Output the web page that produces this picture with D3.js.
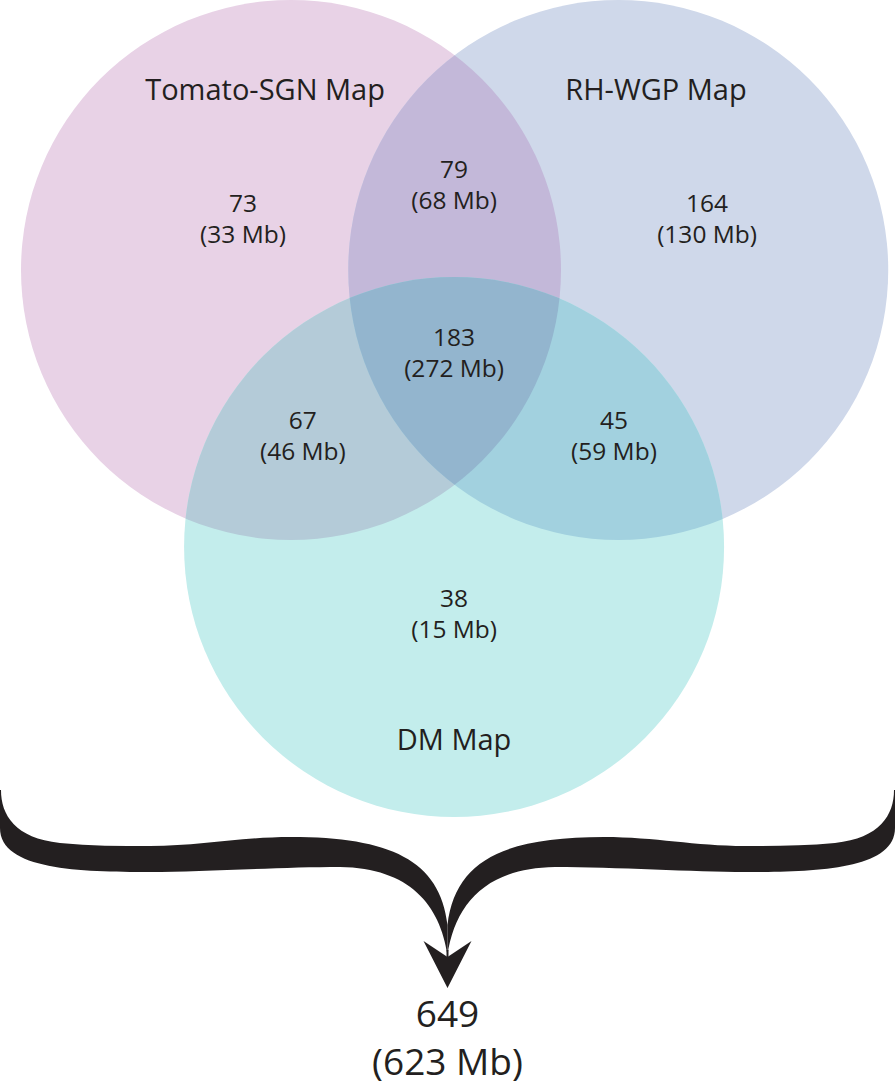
<!DOCTYPE html>
<html>
<head>
<meta charset="utf-8">
<script src="https://cdn.jsdelivr.net/npm/d3@7"></script>
<style>
  html, body { margin: 0; padding: 0; background: #ffffff; }
  svg { display: block; }
  text { font-family: "Open Sans", "Noto Sans", sans-serif; fill: #231F20; }
</style>
</head>
<body>
<svg id="chart" width="895" height="1089"></svg>
<script>
// ---------------- data ----------------
const setNames   = ["Tomato-SGN Map", "RH-WGP Map", "DM Map"];
const setColors  = ["#E8D2E6", "#CFD8EA", "#C3EDEC"];
// regions: A only, B only, C only, A∩B, A∩C, B∩C, A∩B∩C
const regionKeys   = ["A", "B", "C", "AB", "AC", "BC", "ABC"];
const regionCounts = [73, 164, 38, 79, 67, 45, 183];
const regionMb     = [33, 130, 15, 68, 46, 59, 272];
const pairColors   = { AB: "#C3B8D9", AC: "#B4CBD8", BC: "#A2D1DF" };
const tripleColor  = "#93B5CE";
const totalCount   = 649;
const totalMb      = 623;

// ---------------- layout (unit = circle radius) ----------------
const centers = [[0, 0], [1.212, 0], [0.604, 1.026]];          // circle centres
const setLabelPos = [[-0.096, -0.63], [1.352, -0.63], [0.604, 1.778]];
const regionLabelPos = [[-0.178, -0.215], [1.541, -0.215], [0.604, 1.248],
                        [0.604, -0.34], [0.044, 0.589], [1.196, 0.589], [0.604, 0.281]];

const W = 895, H = 1089;
const x = d3.scaleLinear().domain([0, 1]).range([291, 561]);
const y = d3.scaleLinear().domain([0, 1]).range([270, 540]);
const R = x(1) - x(0);

const svg = d3.select("#chart");
const defs = svg.append("defs");
["A", "B", "C"].forEach((k, i) => {
  defs.append("clipPath").attr("id", "clip" + k)
    .append("circle").attr("cx", x(centers[i][0])).attr("cy", y(centers[i][1])).attr("r", R);
});

const circ = (g, i) => g.append("circle")
  .attr("cx", x(centers[i][0])).attr("cy", y(centers[i][1])).attr("r", R);

// single sets
const gSets = svg.append("g");
setColors.forEach((c, i) => circ(gSets, i).attr("fill", c));
// pairwise intersections
circ(svg, 1).attr("clip-path", "url(#clipA)").attr("fill", pairColors.AB);
circ(svg, 2).attr("clip-path", "url(#clipA)").attr("fill", pairColors.AC);
circ(svg, 2).attr("clip-path", "url(#clipB)").attr("fill", pairColors.BC);
// triple
const gT = svg.append("g").attr("clip-path", "url(#clipA)");
circ(gT, 2).attr("clip-path", "url(#clipB)").attr("fill", tripleColor);

// set labels
svg.append("g").selectAll("text").data(setNames).join("text")
  .attr("x", (d, i) => x(setLabelPos[i][0]))
  .attr("y", (d, i) => y(setLabelPos[i][1]))
  .attr("text-anchor", "middle")
  .attr("font-size", 29)
  .text(d => d);

// region labels
const rg = svg.append("g").selectAll("g").data(regionKeys).join("g")
  .attr("transform", (d, i) => `translate(${x(regionLabelPos[i][0])},${y(regionLabelPos[i][1])})`);
rg.append("text").attr("text-anchor", "middle").attr("font-size", 24.5)
  .text((d, i) => regionCounts[i]);
rg.append("text").attr("text-anchor", "middle").attr("font-size", 24.5).attr("y", 31)
  .text((d, i) => `(${regionMb[i]} Mb)`);

// ---------------- brace + arrow ----------------
const cx = W / 2;
const bTop = 790;       // top of brace ends
const notch = 925, tip = 955;
function halfBrace() {
  const p = d3.path();
  // inner (upper) edge
  p.moveTo(1, bTop);
  p.bezierCurveTo(1, 815, 15, 838, 60, 843);
  p.bezierCurveTo(90, 846, 120, 846, 150, 846);
  p.bezierCurveTo(200, 846, 240, 837, 291, 837);
  p.bezierCurveTo(390, 837, 440, 860, cx, notch);
  p.lineTo(cx, tip);
  // outer (lower) edge
  p.bezierCurveTo(440, 905, 410, 868, 340, 867);
  p.bezierCurveTo(280, 867, 200, 872, 150, 872);
  p.bezierCurveTo(80, 872, 0, 870, 0, 828);
  p.lineTo(0, bTop);
  p.closePath();
  return p.toString();
}
const gb = svg.append("g").attr("fill", "#231F20");
gb.append("path").attr("d", halfBrace());
gb.append("path").attr("d", halfBrace()).attr("transform", `translate(${W},0) scale(-1,1)`);
// arrow head
const ah = d3.path();
ah.moveTo(cx - 24, 941); ah.lineTo(cx, 957); ah.lineTo(cx + 24, 941); ah.lineTo(cx, 988); ah.closePath();
gb.append("path").attr("d", ah.toString());
// thin stem joining brace point to arrow notch
gb.append("rect").attr("x", cx - 1).attr("y", tip - 5).attr("width", 2).attr("height", 957 - tip + 5);

// totals
svg.append("text").attr("x", cx).attr("y", 1027).attr("text-anchor", "middle")
  .attr("font-size", 37).text(totalCount);
svg.append("text").attr("x", cx).attr("y", 1075).attr("text-anchor", "middle")
  .attr("font-size", 37).text(`(${totalMb} Mb)`);
</script>
</body>
</html>
